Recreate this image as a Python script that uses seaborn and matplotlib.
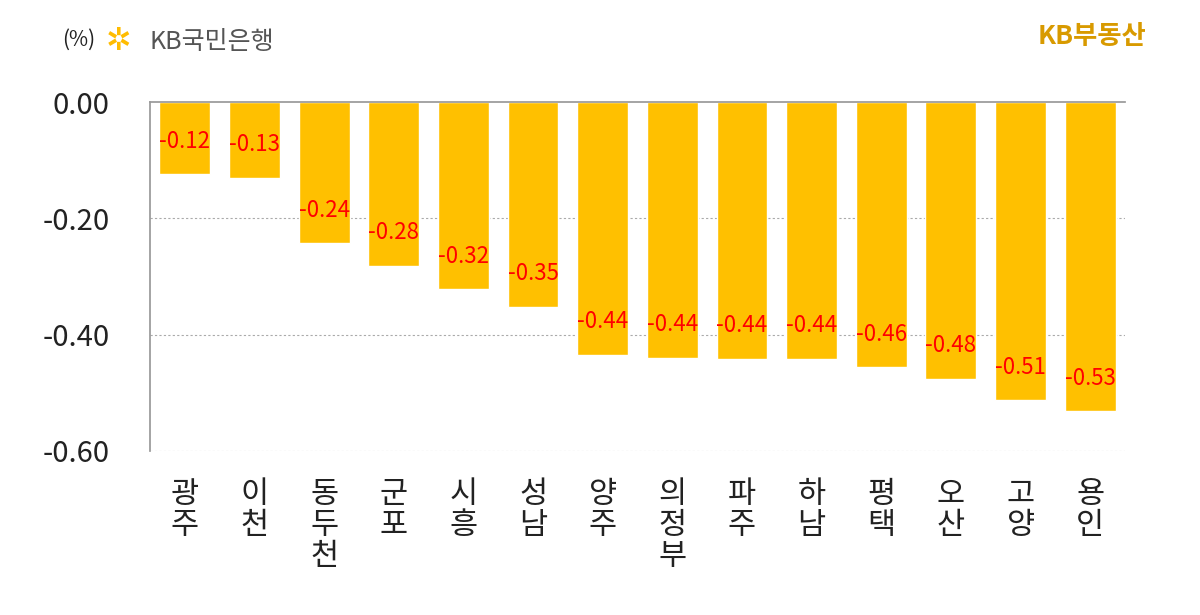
import numpy as np
import pandas as pd
import seaborn as sns
import matplotlib.pyplot as plt

regions = ['광주', '이천', '동두천', '군포', '시흥', '성남', '양주', '의정부', '파주', '하남', '평택', '오산', '고양', '용인']
values = [-0.124, -0.13, -0.243, -0.282, -0.322, -0.352, -0.435, -0.44, -0.441, -0.441, -0.456, -0.476, -0.513, -0.532]
labels = ['-0.12', '-0.13', '-0.24', '-0.28', '-0.32', '-0.35', '-0.44', '-0.44', '-0.44', '-0.44', '-0.46', '-0.48', '-0.51', '-0.53']
yticks = [0.0, -0.2, -0.4, -0.6]

sns.set_theme(style='white')
plt.rcParams['font.family'] = ['Noto Sans CJK KR', 'DejaVu Sans']
plt.rcParams['axes.unicode_minus'] = False

df = pd.DataFrame({'region': regions, 'value': values})

fig = plt.figure(figsize=(12, 6.15), dpi=100)
ax = fig.add_axes([0.125, 0.2667, 0.8125, 0.5673])
sns.barplot(data=df, x='region', y='value', color='#FFC000', saturation=1, width=0.73, ax=ax)

ax.set_ylim(-0.6, 0)
ax.set_xlim(-0.5, len(regions) - 0.5)
ax.set_yticks(yticks)
ax.set_yticklabels([f'{v:.2f}' for v in yticks])
ax.set_xticks(range(len(regions)))
ax.set_xticklabels(['\n'.join(r) for r in regions])
ax.tick_params(axis='x', length=0, pad=20)
ax.tick_params(axis='y', length=0, pad=29)
for t in ax.get_xticklabels():
    t.set_fontsize(22)
    t.set_color('#222222')
    t.set_linespacing(1.0)
    t.set_verticalalignment('top')
for t in ax.get_yticklabels():
    t.set_fontsize(21)
    t.set_color('#222222')
ax.set_xlabel('')
ax.set_ylabel('')
for v in yticks[1:]:
    ax.axhline(v, color='#aaaaaa', lw=0.8, ls=(0, (2, 2)), zorder=0)
for s in ['right', 'bottom']:
    ax.spines[s].set_visible(False)
ax.spines['left'].set_color('#999999')
ax.spines['top'].set_color('#999999')

for i, (v, lab) in enumerate(zip(values, labels)):
    ax.text(i, v + 0.057, lab, ha='center', va='center', color='#FF0000', fontsize=16)

fig.text(0.052, 0.935, '(%)', fontsize=15, color='#222222', va='center')
fig.text(0.088, 0.932, '✲', fontsize=22, color='#FFBC00', va='center', family=['DejaVu Sans'])
fig.text(0.125, 0.932, 'KB국민은행', fontsize=18, color='#555555', va='center')
fig.text(0.955, 0.94, 'KB부동산', fontsize=19, color='#D89A00', va='center', ha='right', weight='bold')

fig.savefig('out.png', dpi=100)
